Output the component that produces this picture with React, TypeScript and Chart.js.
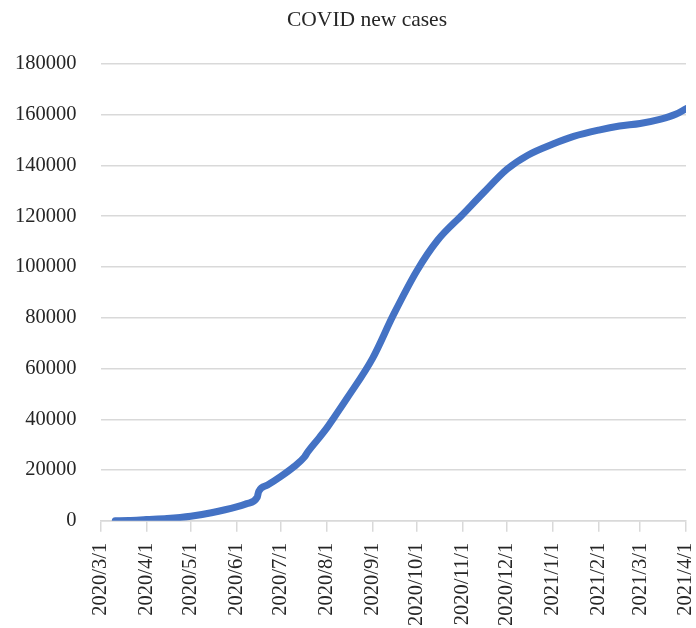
import React, { useEffect, useRef } from "react";
import { Chart, registerables } from "chart.js";

Chart.register(...registerables);

const TITLE = "COVID new cases";

// Month ticks on the date axis
const MONTH_TICK_DATES = [
  "2020-03-01", "2020-04-01", "2020-05-01", "2020-06-01", "2020-07-01",
  "2020-08-01", "2020-09-01", "2020-10-01", "2020-11-01", "2020-12-01",
  "2021-01-01", "2021-02-01", "2021-03-01", "2021-04-01",
];
const MONTH_TICK_LABELS = [
  "2020/3/1", "2020/4/1", "2020/5/1", "2020/6/1", "2020/7/1",
  "2020/8/1", "2020/9/1", "2020/10/1", "2020/11/1", "2020/12/1",
  "2021/1/1", "2021/2/1", "2021/3/1", "2021/4/1",
];

// Series
const DATES = [
  "2020-03-11", "2020-03-20", "2020-04-01", "2020-04-15", "2020-05-01",
  "2020-05-15", "2020-06-01", "2020-06-08", "2020-06-15", "2020-06-16",
  "2020-06-22", "2020-07-01", "2020-07-10", "2020-07-17", "2020-07-19",
  "2020-07-27", "2020-08-01", "2020-08-06", "2020-08-15", "2020-09-01",
  "2020-09-15", "2020-10-01", "2020-10-15", "2020-11-01", "2020-11-15",
  "2020-12-01", "2020-12-15", "2021-01-01", "2021-01-15", "2021-02-01",
  "2021-02-15", "2021-03-01", "2021-03-15", "2021-03-25", "2021-04-01",
];
const CASES = [
  0, 150, 500, 900, 1800,
  3200, 5500, 6800, 9300, 11600,
  14100, 17500, 21400, 25200, 27000,
  32800, 36500, 40700, 48500, 64000,
  81000, 98500, 110500, 120700, 129200,
  138500, 144000, 148400, 151400, 153900,
  155500, 156500, 158200, 160100, 162300,
];

const Y_MIN = 0;
const Y_MAX = 180000;
const Y_STEP = 20000;

const ORIGIN = Date.UTC(2020, 2, 1);
const dayOf = (s: string) => {
  const [y, m, d] = s.split("-").map(Number);
  return Math.round((Date.UTC(y, m - 1, d) - ORIGIN) / 86400000);
};

const SERIF = "'Liberation Serif', 'Times New Roman', serif";
const TEXT = "#262626";
const X_PAD = 11;
const Y_PAD = 24;

export default function App() {
  const ref = useRef<HTMLCanvasElement | null>(null);

  useEffect(() => {
    if (!ref.current) return;
    const tickDays = MONTH_TICK_DATES.map(dayOf);
    const labelFor = new Map<number, string>();
    tickDays.forEach((d, i) => labelFor.set(d, MONTH_TICK_LABELS[i]));
    const points = DATES.map((d, i) => ({ x: dayOf(d), y: CASES[i] }));

    const titleShift = {
      id: "titleShift",
      afterLayout(chart: any) {
        const tb = chart.titleBlock;
        if (tb) {
          tb.left = 367 - 150;
          tb.right = 367 + 150;
          tb.width = 300;
        }
      },
    };

    const chart = new Chart(ref.current, {
      type: "line",
      data: {
        datasets: [
          {
            data: points,
            borderColor: "#4472C4",
            backgroundColor: "#4472C4",
            borderWidth: 7,
            pointRadius: 0,
            cubicInterpolationMode: "monotone",
            borderCapStyle: "round",
            borderJoinStyle: "round",
          },
        ],
      },
      options: {
        animation: false,
        responsive: true,
        maintainAspectRatio: false,
        layout: { padding: { left: 15, right: 0, top: 0, bottom: 0 } },
        plugins: {
          legend: { display: false },
          tooltip: { enabled: false },
          title: {
            display: true,
            text: TITLE,
            color: TEXT,
            font: { family: SERIF, size: 21.5, weight: "normal" },
            padding: { top: 7, bottom: 31 },
          },
        },
        scales: {
          x: {
            type: "linear",
            min: tickDays[0],
            max: tickDays[tickDays.length - 1],
            afterBuildTicks: (scale: any) => {
              scale.ticks = tickDays.map((v) => ({ value: v }));
            },
            afterFit: (scale: any) => {
              scale.paddingLeft = 0;
              scale.paddingRight = 10;
              scale.height = scale.height - X_PAD + 2;
            },
            ticks: {
              autoSkip: false,
              maxRotation: 90,
              minRotation: 90,
              padding: X_PAD,
              color: TEXT,
              font: { family: SERIF, size: 20.5 },
              callback: (v: any) => labelFor.get(Number(v)) ?? "",
            },
            grid: {
              drawOnChartArea: false,
              drawTicks: true,
              tickLength: 11,
              color: "#d9d9d9",
              lineWidth: 1.5,
            },
            border: { display: true, color: "#d9d9d9", width: 1.5 },
          },
          y: {
            min: Y_MIN,
            max: Y_MAX,
            afterFit: (scale: any) => {
              scale.width = scale.width - Y_PAD;
            },
            ticks: {
              stepSize: Y_STEP,
              padding: Y_PAD,
              color: TEXT,
              font: { family: SERIF, size: 20.5 },
              callback: (v: any) => String(v),
            },
            grid: {
              drawTicks: false,
              color: "#d9d9d9",
              lineWidth: 1.5,
            },
            border: { display: false },
          },
        },
      },
      plugins: [titleShift],
    } as any);

    return () => chart.destroy();
  }, []);

  return (
    <div style={{ position: "absolute", left: 0, top: 0, width: 696, height: 628 }}>
      <canvas ref={ref} />
    </div>
  );
}
